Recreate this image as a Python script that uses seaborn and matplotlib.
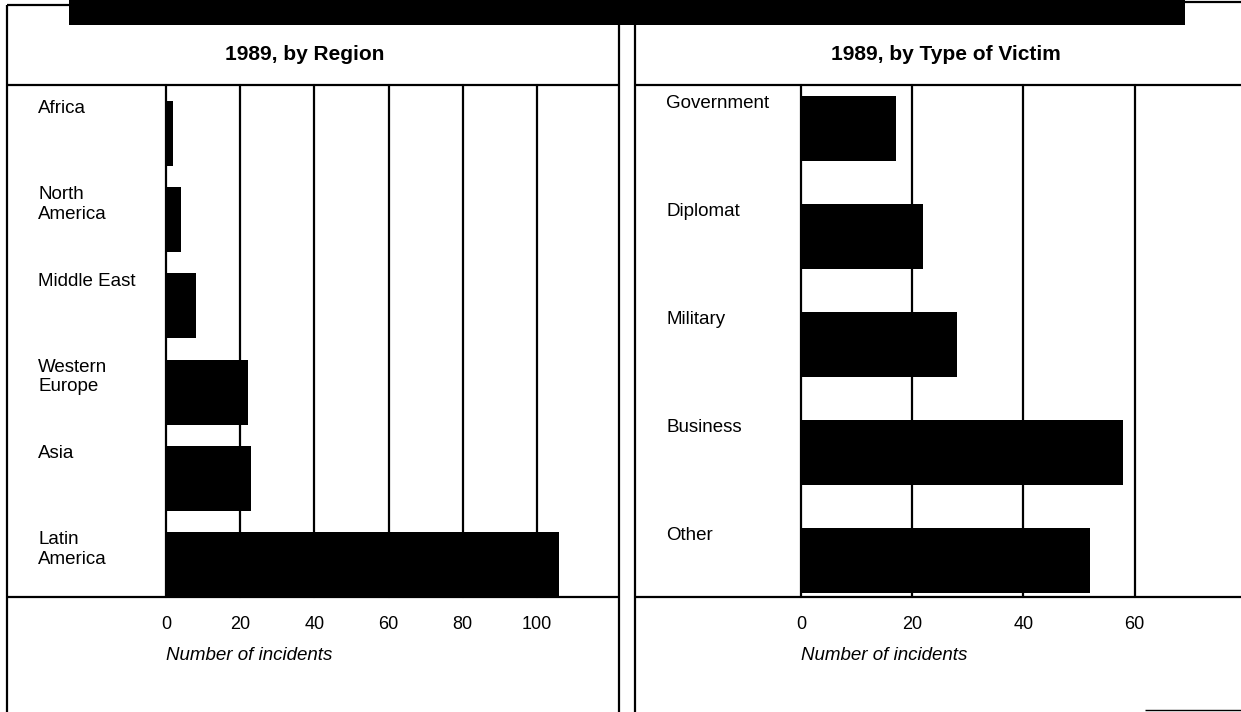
import matplotlib
matplotlib.use("Agg")
import matplotlib.pyplot as plt
import matplotlib.transforms as mtransforms
from matplotlib.lines import Line2D
from matplotlib.patches import Rectangle
import seaborn as sns

# data
regions = ["Africa", "North\nAmerica", "Middle East", "Western\nEurope", "Asia", "Latin\nAmerica"]
region_counts = [2, 4, 8, 22, 23, 106]
region_ticks = [0, 20, 40, 60, 80, 100]

victims = ["Government", "Diplomat", "Military", "Business", "Other"]
victim_counts = [17, 22, 28, 58, 52]
victim_ticks = [0, 20, 40, 60]

W, H = 1241, 712

sns.set_style("white")
plt.rcParams["font.family"] = ["Liberation Sans", "DejaVu Sans"]
plt.rcParams["text.color"] = "black"
plt.rcParams["xtick.color"] = "black"
plt.rcParams["axes.labelcolor"] = "black"

fig = plt.figure(figsize=(W / 100, H / 100), dpi=100)


def fx(px):
    return px / W


def fy(py):
    return 1 - py / H


def fig_line(x0, y0, x1, y1, lw=1.6):
    fig.add_artist(Line2D([fx(x0), fx(x1)], [fy(y0), fy(y1)], color="black",
                          lw=lw, transform=fig.transFigure, solid_capstyle="butt"))


def panel(left, right, cats, vals, ticks, xmax, bar_w, ylim, label_x, title, title_x):
    ax = fig.add_axes([fx(left), fy(597), fx(right) - fx(left), fy(85) - fy(597)])
    sns.barplot(x=vals, y=cats, orient="h", color="black", saturation=1,
                width=bar_w, ax=ax, zorder=3, linewidth=0)
    ax.set_xlim(0, xmax)
    ax.set_ylim(*ylim)
    ax.set_xticks(ticks)
    ax.set_yticks([])
    ax.set_ylabel("")
    ax.grid(False)
    for t in ticks:
        ax.axvline(t, color="black", lw=1.6, zorder=1, clip_on=False)
    for s in ax.spines.values():
        s.set_visible(False)
    ax.tick_params(axis="x", length=0, pad=14, labelsize=13, labelcolor="black")
    ax.patch.set_alpha(0)
    trans = mtransforms.blended_transform_factory(fig.transFigure, ax.transData)
    for i, c in enumerate(cats):
        ax.text(fx(label_x), i - bar_w / 2 - 0.01, c, transform=trans, ha="left", va="top",
                fontsize=13.5, linespacing=1.2, color="black")
    fig.text(fx(left), fy(656), "Number of incidents", style="italic", fontsize=13.5,
             ha="left", va="center", color="black")
    fig.text(fx(title_x), fy(54), title, fontsize=15, fontweight="bold",
             ha="center", va="center", color="black")
    return ax


panel(166, 619, regions, region_counts, region_ticks, (619 - 166) / 3.71, 0.754,
      (5.377, -0.563), 38, "1989, by Region", 305)
panel(801, 1241, victims, victim_counts, victim_ticks, (1241 - 801) / 5.56, 0.60,
      (4.334, -0.402), 666, "1989, by Type of Victim", 946)

# frame, header band and panel rules
fig.add_artist(Rectangle((fx(69), fy(25)), fx(1185) - fx(69), fy(0) - fy(25),
                         transform=fig.transFigure, color="black", lw=0))
fig_line(7, 5, 69, 5)
fig_line(1185, 2, 1241, 2)
fig_line(7, 5, 7, 712)
fig_line(619, 25, 619, 712)
fig_line(635, 25, 635, 712)
fig_line(7, 85, 619, 85)
fig_line(635, 85, 1241, 85)
fig_line(7, 597, 619, 597)
fig_line(635, 597, 1241, 597)
fig_line(1145, 710, 1241, 710, lw=1.0)

fig.savefig("out.png", dpi=100, facecolor="white")
